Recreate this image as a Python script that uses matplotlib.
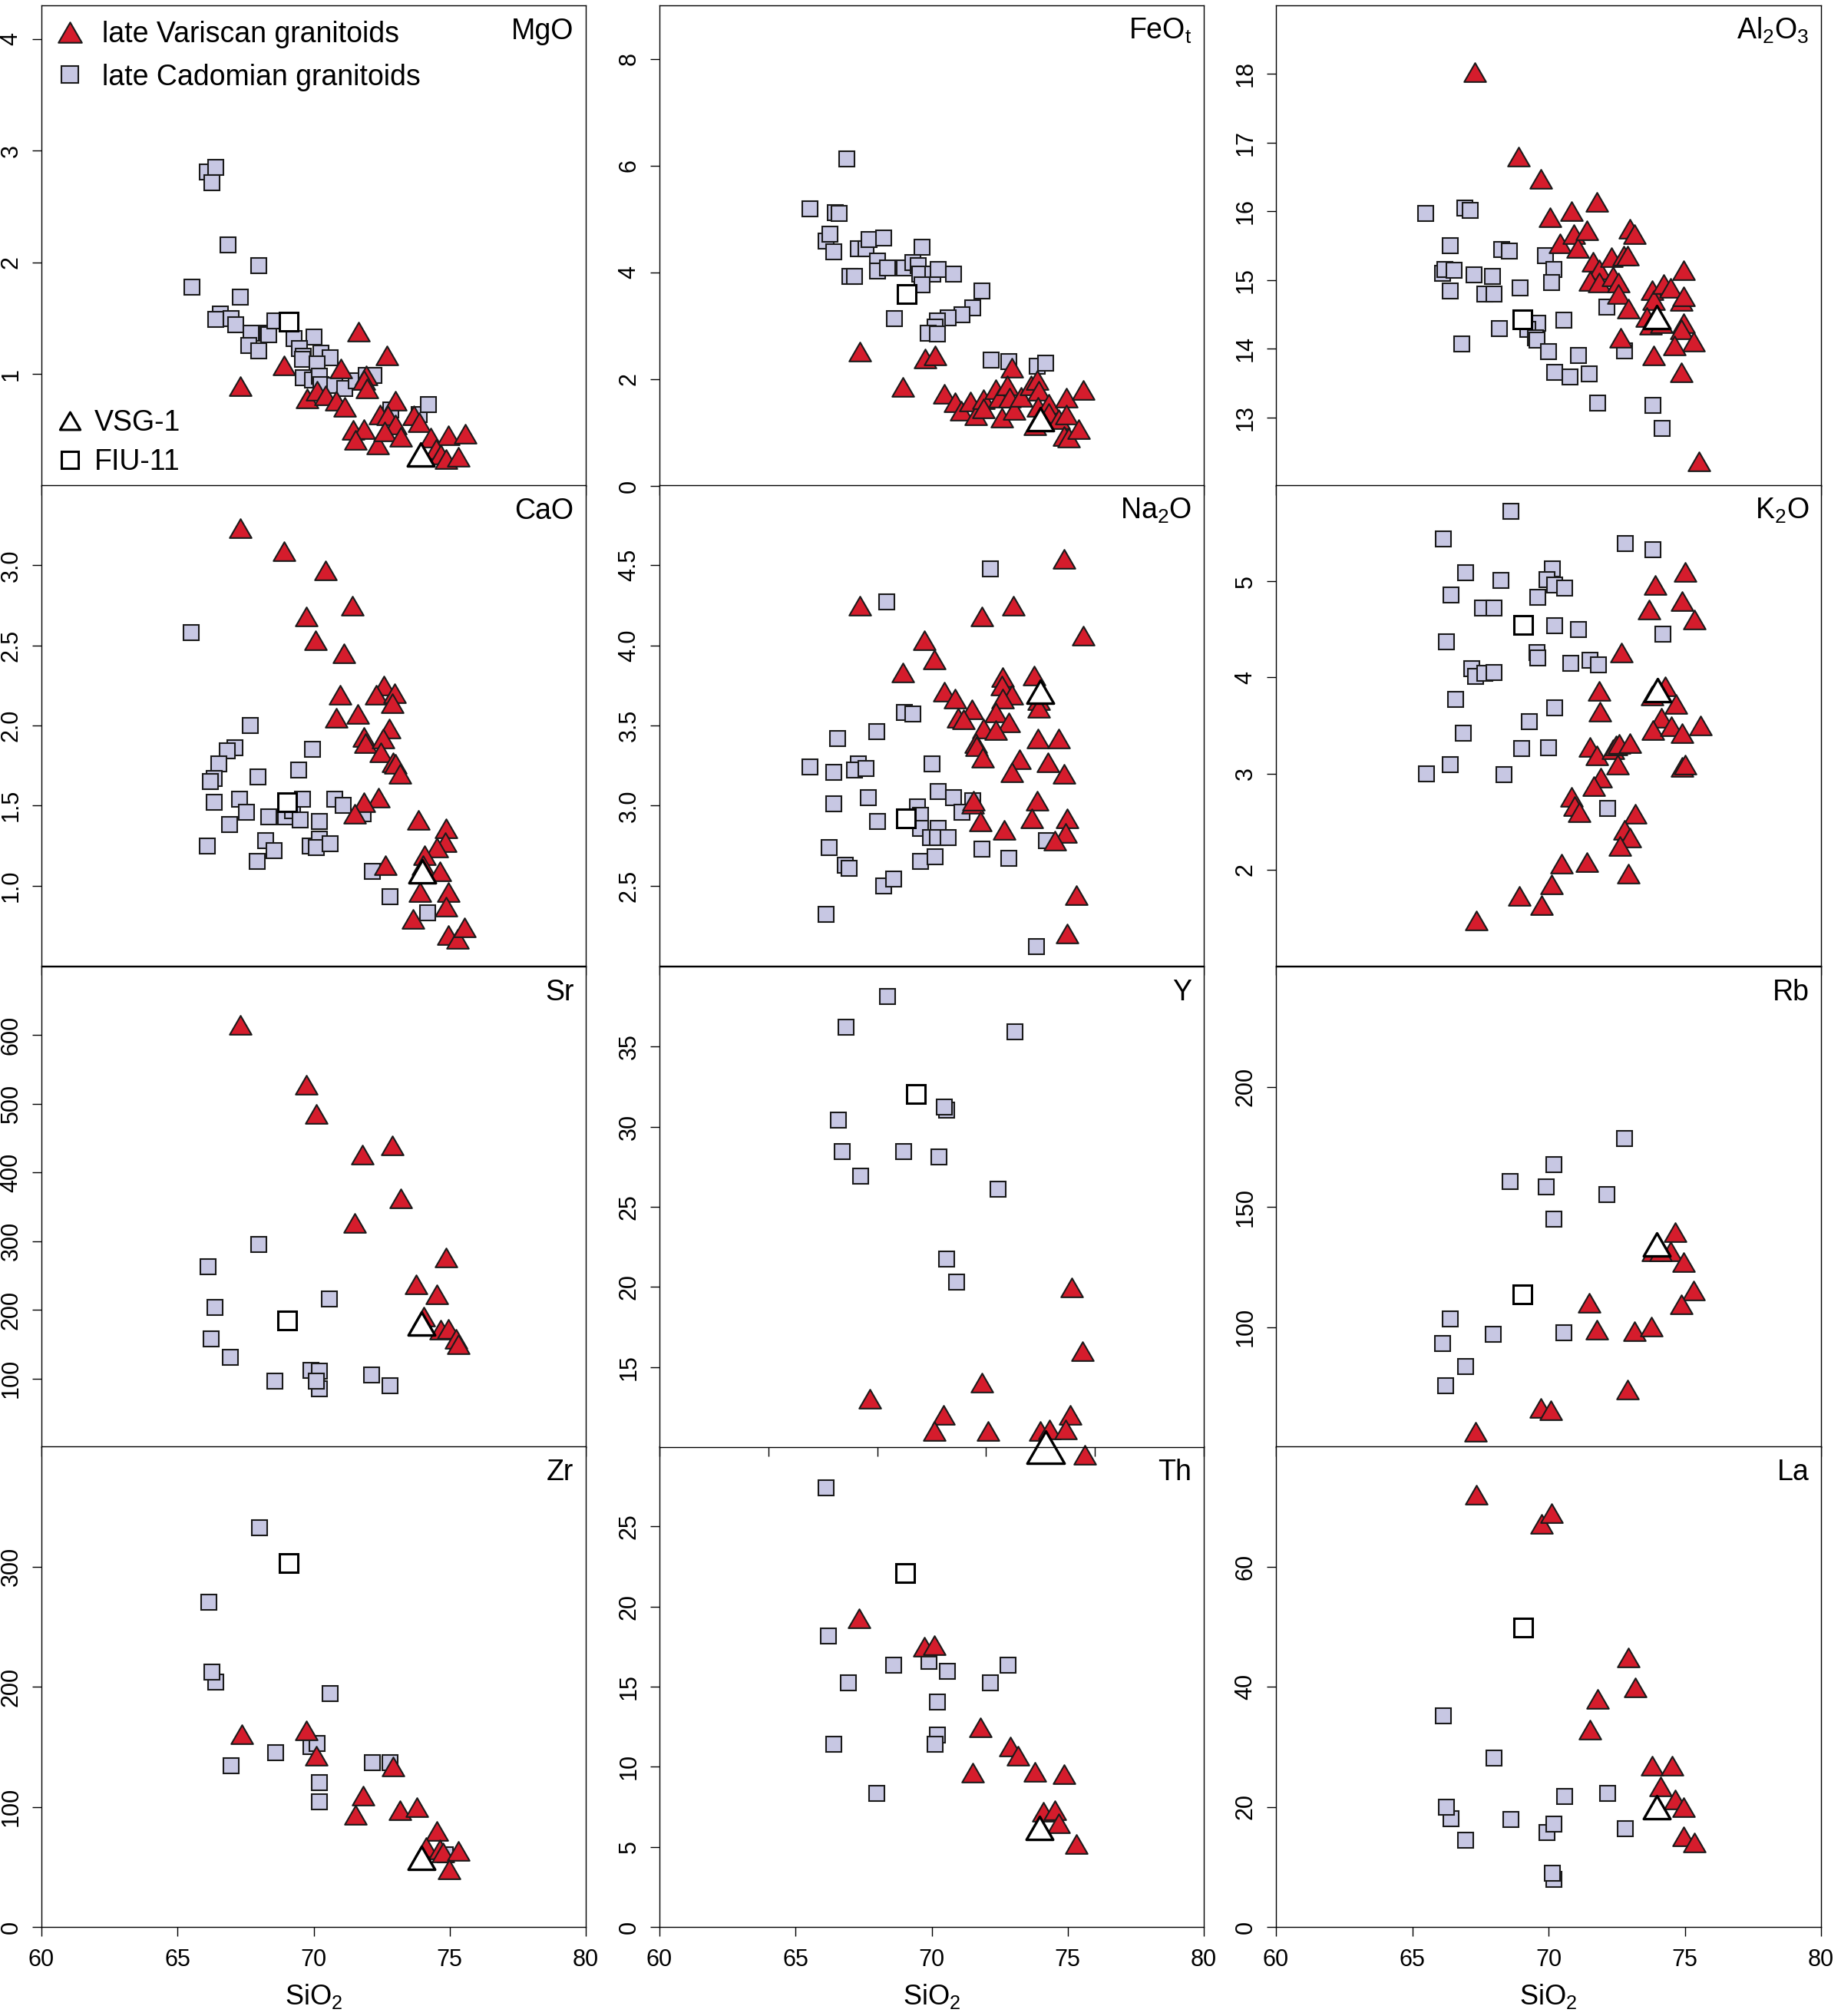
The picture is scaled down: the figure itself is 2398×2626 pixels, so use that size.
import matplotlib
matplotlib.use('Agg')
import matplotlib.pyplot as plt
from matplotlib.path import Path
from matplotlib.lines import Line2D

plt.rcParams['font.family'] = ['Liberation Sans', 'DejaVu Sans']
plt.rcParams['mathtext.fontset'] = 'custom'
plt.rcParams['mathtext.rm'] = 'Liberation Sans'
plt.rcParams['mathtext.it'] = 'Liberation Sans:italic'
plt.rcParams['mathtext.bf'] = 'Liberation Sans:bold'

# ---- data (SiO2 vs element), var = late Variscan, cad = late Cadomian
mgo_var_x = [67.32,68.91,71.64,72.68,70.99,71.93,71.86,71.96,69.75,70.12,70.45,70.84,71.14,73.01,72.43,72.71,
             73.01,73.67,73.88,71.46,71.86,71.54,72.36,72.62,73.20,74.29,74.94,75.58,74.51,74.68,74.87,75.33]
mgo_var_y = [0.89,1.08,1.38,1.17,1.05,0.99,0.95,0.87,0.78,0.85,0.81,0.76,0.71,0.76,0.64,0.63,
             0.55,0.63,0.57,0.50,0.51,0.41,0.37,0.49,0.44,0.43,0.45,0.47,0.33,0.28,0.24,0.26]
mgo_cad_x = [66.09,66.39,66.25,66.86,67.97,65.52,67.32,66.57,66.39,66.96,67.14,67.70,68.28,68.35,68.57,67.61,
             67.97,69.29,70.0,69.49,69.61,69.58,70.26,70.62,70.12,69.61,69.97,70.22,70.26,70.77,71.14,71.57,
             71.93,72.22,72.83,73.88,74.22]
mgo_cad_y = [2.81,2.85,2.71,2.16,1.97,1.78,1.69,1.54,1.49,1.50,1.44,1.37,1.37,1.35,1.48,1.26,
             1.21,1.32,1.33,1.23,1.16,1.13,1.19,1.15,1.09,0.97,0.95,0.98,0.91,0.90,0.87,0.94,
             0.99,0.99,0.68,0.64,0.73]

feo_var_x = [67.35,69.77,70.13,68.94,72.96,70.46,70.86,71.09,71.43,71.62,71.91,71.91,72.35,72.49,72.57,72.78,
             72.86,73.04,73.29,73.65,73.87,73.94,73.91,73.80,74.30,74.30,74.67,74.96,74.96,74.86,75.03,75.39,75.57]
feo_var_y = [2.51,2.39,2.45,1.85,2.22,1.72,1.57,1.41,1.58,1.32,1.63,1.45,1.81,1.66,1.28,1.89,
             1.66,1.42,1.67,1.89,1.98,1.78,1.48,1.13,1.54,1.37,1.25,1.66,1.34,0.93,0.90,1.06,1.79]
feo_cad_x = [66.87,65.54,66.45,66.59,66.12,66.26,66.41,67.30,67.59,67.71,68.25,68.0,68.0,68.39,66.99,67.16,
             69.64,68.99,69.30,69.52,69.57,70.03,70.25,70.80,69.64,71.84,71.51,71.12,70.61,70.20,70.14,69.88,
             70.22,68.62,72.20,72.83,73.87,74.19]
feo_cad_y = [6.13,5.19,5.12,5.11,4.59,4.72,4.38,4.44,4.44,4.62,4.65,4.21,4.03,4.08,3.93,3.93,
             4.47,4.09,4.18,4.12,3.97,3.97,4.06,3.97,3.76,3.65,3.33,3.21,3.15,3.09,2.98,2.86,
             2.84,3.14,2.36,2.33,2.25,2.30]

al_var_x = [67.30,68.89,69.73,70.07,70.84,71.78,70.43,70.92,71.08,71.42,71.63,71.85,71.53,71.85,72.31,72.36,
            72.57,72.57,72.76,72.89,72.98,73.15,72.93,72.64,73.80,73.87,74.23,74.49,73.61,73.76,74.13,74.88,
            74.96,74.96,74.88,74.96,75.32,74.62,73.87,74.86,75.53]
al_var_y = [18.03,16.80,16.47,15.91,16.0,16.14,15.53,15.67,15.47,15.72,15.26,15.15,14.99,14.96,15.33,15.05,
            14.96,14.80,15.35,15.35,15.75,15.67,14.58,14.16,14.85,14.71,14.94,14.89,14.46,14.35,14.37,14.69,
            14.76,14.37,14.28,15.14,14.10,14.05,13.90,13.65,12.36]
al_cad_x = [65.49,66.94,67.12,66.39,66.10,66.21,66.53,66.39,67.27,67.95,68.28,68.57,67.66,67.99,68.96,66.82,
            68.19,69.90,70.19,70.12,69.61,69.25,69.51,69.57,70.55,70.0,71.10,70.23,70.78,71.50,71.81,72.14,
            72.79,73.82,74.18]
al_cad_y = [15.97,16.05,16.01,15.50,15.10,15.15,15.14,14.84,15.08,15.05,15.44,15.42,14.80,14.80,14.89,14.07,
            14.29,15.36,15.15,14.96,14.37,14.28,14.16,14.12,14.42,13.96,13.90,13.65,13.59,13.63,13.21,14.61,
            13.97,13.17,12.84]

cao_var_x = [67.31,68.91,70.45,71.42,69.74,70.07,71.12,70.96,72.57,72.31,72.97,72.89,71.61,70.84,72.78,71.85,
             71.90,72.56,72.46,72.92,73.0,73.18,72.38,71.85,71.50,73.84,74.88,74.85,74.52,74.08,72.63,74.01,
             74.64,73.91,74.96,74.88,73.65,74.96,75.29,75.54]
cao_var_y = [3.23,3.09,2.97,2.75,2.68,2.53,2.45,2.19,2.25,2.19,2.20,2.14,2.07,2.05,1.98,1.93,
             1.89,1.92,1.83,1.77,1.76,1.70,1.55,1.52,1.45,1.41,1.36,1.27,1.24,1.19,1.13,1.13,
             1.09,0.96,0.96,0.87,0.79,0.69,0.67,0.74]
cao_cad_x = [65.49,67.66,67.11,66.82,66.53,66.35,66.21,67.95,69.97,69.46,66.35,67.28,67.54,66.92,66.09,68.34,
             68.97,69.22,69.58,69.51,70.20,68.23,68.56,67.94,69.87,70.20,70.09,70.60,70.78,71.10,71.83,72.15,
             72.81,74.19]
cao_cad_y = [2.58,2.0,1.86,1.84,1.76,1.67,1.65,1.68,1.85,1.72,1.52,1.54,1.46,1.38,1.25,1.43,
             1.43,1.47,1.54,1.41,1.40,1.28,1.22,1.15,1.25,1.29,1.24,1.26,1.54,1.50,1.45,1.09,
             0.93,0.83]

na_var_x = [74.88,67.35,73.0,71.84,75.58,69.74,70.10,68.94,73.77,72.61,72.57,72.96,72.61,70.46,70.87,73.94,
            73.94,71.48,72.35,70.97,71.16,72.83,71.91,72.35,73.91,74.67,71.62,71.65,71.87,73.22,74.28,72.96,
            74.88,71.52,71.55,73.87,71.80,73.68,74.99,72.67,74.93,74.52,75.32,74.99]
na_var_y = [4.54,4.25,4.25,4.18,4.06,4.03,3.91,3.83,3.81,3.80,3.75,3.69,3.67,3.71,3.67,3.66,
            3.61,3.60,3.58,3.55,3.54,3.52,3.48,3.47,3.42,3.42,3.39,3.37,3.30,3.29,3.27,3.21,
            3.20,3.01,3.03,3.03,2.90,2.92,2.92,2.85,2.83,2.78,2.44,2.20]
na_cad_x = [72.17,68.36,69.01,69.30,67.97,66.55,65.54,66.41,67.30,67.16,67.59,70.0,66.41,67.68,70.25,70.80,
            71.51,68.0,69.49,69.59,69.59,71.12,70.25,69.96,70.22,70.61,74.23,66.23,66.84,66.96,69.59,70.13,
            71.84,72.83,68.25,68.61,66.12,73.84]
na_cad_y = [4.48,4.27,3.58,3.57,3.46,3.42,3.24,3.21,3.26,3.22,3.23,3.26,3.01,3.05,3.09,3.05,
            3.03,2.90,2.99,2.94,2.86,2.96,2.86,2.80,2.80,2.80,2.78,2.74,2.63,2.61,2.65,2.68,
            2.73,2.67,2.50,2.54,2.32,2.12]

k_var_x = [75.0,73.92,74.91,73.68,75.36,72.69,74.28,73.80,71.85,71.88,74.67,74.13,73.84,74.52,74.91,75.58,
           71.53,71.78,72.36,72.47,72.60,72.98,72.53,74.91,75.0,71.92,71.65,70.84,70.95,71.14,73.19,72.79,
           72.98,72.62,72.93,70.48,71.42,70.12,68.93,69.75,67.34]
k_var_y = [5.10,4.96,4.79,4.71,4.60,4.26,3.91,3.81,3.86,3.64,3.72,3.58,3.45,3.49,3.42,3.50,
           3.28,3.19,3.25,3.29,3.31,3.32,3.09,3.07,3.09,2.96,2.87,2.76,2.66,2.60,2.58,2.41,
           2.33,2.25,1.96,2.06,2.08,1.85,1.73,1.63,1.47]
k_cad_x = [68.63,66.14,72.83,73.84,66.95,70.14,69.94,70.23,70.58,68.24,66.42,69.61,67.59,67.99,70.22,71.10,
           74.21,66.26,69.58,69.61,70.81,71.53,71.82,67.18,67.33,67.66,67.99,66.58,70.23,69.29,66.86,69.0,
           70.0,66.40,65.53,68.38,72.17]
k_cad_y = [5.73,5.44,5.39,5.33,5.09,5.13,5.02,4.96,4.93,5.01,4.86,4.83,4.72,4.72,4.54,4.50,
           4.45,4.37,4.26,4.20,4.15,4.18,4.13,4.09,4.01,4.04,4.05,3.77,3.68,3.54,3.42,3.26,
           3.27,3.09,3.0,2.99,2.64]

sr_var_x = [67.32,69.72,70.09,71.80,72.90,73.19,71.51,74.88,73.77,74.52,74.06,74.67,74.96,75.22,75.32]
sr_var_y = [615,528,485,426,440,362,327,276,237,223,190,171,172,158,150]
sr_cad_x = [67.97,66.12,66.38,70.58,66.23,66.94,68.58,69.91,70.20,70.20,70.10,72.14,72.81]
sr_cad_y = [295,263,204,216,158,131,96,112,111,85,96,105,90]

y_var_x = [75.15,75.53,71.84,67.74,70.45,75.09,70.09,72.06,73.99,74.33,74.93,75.63]
y_var_y = [19.99,15.98,14.02,13.04,12.03,12.03,10.99,10.99,10.99,11.09,11.09,9.52]
y_cad_x = [68.39,66.85,73.07,70.56,70.46,66.56,66.70,68.97,70.27,67.38,72.45,70.56,70.93]
y_cad_y = [38.15,36.23,35.94,31.05,31.24,30.42,28.44,28.44,28.11,26.94,26.12,21.75,20.32]

rb_var_x = [74.64,74.49,73.82,74.10,74.97,75.32,74.88,71.50,71.78,73.16,73.77,72.90,69.73,70.09,67.31]
rb_var_y = [139.5,131.6,131.6,131.6,127.1,115.3,109.4,110.1,99.0,98.3,100.3,74.1,66.3,65.4,56.5]
rb_cad_x = [72.80,70.20,68.58,69.91,72.14,70.20,66.40,66.11,67.96,70.56,66.95,66.23]
rb_cad_y = [178.4,167.6,160.4,158.4,155.2,145.0,103.3,93.1,97.0,97.6,83.7,75.7]

zr_var_x = [67.35,69.73,70.09,72.91,71.81,71.54,73.16,73.78,74.53,74.14,74.65,74.75,75.33,74.97]
zr_var_y = [160.6,163.6,142.8,133.6,109.2,93.3,96.9,99.4,80.1,66.4,64.8,61.8,63.3,48.0]
zr_cad_x = [68.0,66.15,66.41,66.26,70.60,69.91,70.12,68.60,66.97,72.15,72.80,70.20,70.20,74.85]
zr_cad_y = [332,270,204,212,194,150,153,145,134,137,137,120,104,60]

th_var_x = [67.34,69.74,70.09,71.79,72.88,73.17,71.50,73.79,74.88,74.11,74.52,74.66,75.31]
th_var_y = [19.27,17.5,17.57,12.45,11.26,10.69,9.63,9.66,9.52,7.18,7.29,6.49,5.18]
th_cad_x = [66.12,66.22,68.61,69.91,70.59,72.81,66.95,72.16,70.20,70.20,70.13,66.40,67.99]
th_cad_y = [27.43,18.14,16.35,16.58,15.94,16.35,15.25,15.25,14.06,12.0,11.42,11.42,8.33]

la_var_x = [67.34,69.75,70.11,72.92,73.18,71.80,71.52,73.79,74.54,74.11,74.66,74.95,74.97,75.34]
la_var_y = [71.9,67.1,68.9,44.9,39.9,38.0,32.9,26.9,26.9,23.4,21.2,20.0,15.1,14.1]
la_cad_x = [66.14,67.99,66.43,66.25,66.97,68.62,69.93,70.21,70.58,72.16,72.82,70.21,70.14]
la_cad_y = [35.1,28.1,18.0,20.0,14.4,17.9,15.7,17.1,21.7,22.2,16.3,7.9,8.9]

# reference samples, one value per panel (MgO ... La)
vsg1_x = [73.93,73.99,73.97,73.98,73.99,73.99,73.97,74.18,73.96,73.96,73.97,73.98]
vsg1_y = [0.28,1.25,14.46,1.09,3.71,3.87,180,10.0,134.2,57.8,6.19,20.0]
fiu11_x = [69.07,69.09,69.03,69.04,69.06,69.06,69.04,69.41,69.05,69.07,69.04,69.07]
fiu11_y = [1.47,3.59,14.43,1.52,2.92,4.55,185,32.06,113.6,303,22.09,49.9]

names = ['MgO', r'FeO$_\mathrm{t}$', r'Al$_\mathrm{2}$O$_\mathrm{3}$', 'CaO', r'Na$_\mathrm{2}$O',
         r'K$_\mathrm{2}$O', 'Sr', 'Y', 'Rb', 'Zr', 'Th', 'La']
var_x = [mgo_var_x, feo_var_x, al_var_x, cao_var_x, na_var_x, k_var_x, sr_var_x, y_var_x, rb_var_x, zr_var_x, th_var_x, la_var_x]
var_y = [mgo_var_y, feo_var_y, al_var_y, cao_var_y, na_var_y, k_var_y, sr_var_y, y_var_y, rb_var_y, zr_var_y, th_var_y, la_var_y]
cad_x = [mgo_cad_x, feo_cad_x, al_cad_x, cao_cad_x, na_cad_x, k_cad_x, sr_cad_x, y_cad_x, rb_cad_x, zr_cad_x, th_cad_x, la_cad_x]
cad_y = [mgo_cad_y, feo_cad_y, al_cad_y, cao_cad_y, na_cad_y, k_cad_y, sr_cad_y, y_cad_y, rb_cad_y, zr_cad_y, th_cad_y, la_cad_y]

ylims = [(0, 4.3), (0, 9), (12, 19), (0.5, 3.5), (2, 5), (1, 6), (0, 700), (10, 40), (50, 250), (0, 400), (0, 30), (0, 80)]
yticks = [[1, 2, 3, 4], [0, 2, 4, 6, 8], [13, 14, 15, 16, 17, 18], [1.0, 1.5, 2.0, 2.5, 3.0],
          [2.5, 3.0, 3.5, 4.0, 4.5], [2, 3, 4, 5], [100, 200, 300, 400, 500, 600], [15, 20, 25, 30, 35],
          [100, 150, 200], [0, 100, 200, 300], [0, 5, 10, 15, 20, 25], [0, 20, 40, 60]]
xticks = [60, 65, 70, 75, 80]
xticks_y = [60, 64, 68, 72, 76, 80]

red = '#d51c2c'
lav = '#c7c7e3'
edge = '#1a1a1a'

# R-like triangle (equilateral), centred on its bounding box
tri = Path([(0, 0.5), (0.5774, -0.5), (-0.5774, -0.5), (0, 0.5)],
           [Path.MOVETO, Path.LINETO, Path.LINETO, Path.CLOSEPOLY])

W, H = 2398, 2626
col_left = [54, 859, 1662]
col_w = [709, 709, 710]
row_top = [7, 632, 1259, 1884]
row_h = 626

fig = plt.figure(figsize=(W / 100, H / 100), dpi=100)

for i in range(12):
    r, c = divmod(i, 3)
    ax = fig.add_axes([col_left[c] / W, 1 - (row_top[r] + row_h) / H, col_w[c] / W, row_h / H])
    noclip = (names[i] == 'Y')
    if noclip:
        ax.set_zorder(5)
    ax.plot(cad_x[i], cad_y[i], ls='none', marker='s', ms=14, mfc=lav, mec=edge, mew=1.5, clip_on=not noclip)
    ax.plot(var_x[i], var_y[i], ls='none', marker=tri, ms=20.5, mfc=red, mec=edge, mew=1.5, clip_on=not noclip)
    ax.plot(fiu11_x[i], fiu11_y[i], ls='none', marker='s', ms=17.5, mfc='white', mec='black', mew=2.2,
            clip_on=not noclip)
    ax.plot(vsg1_x[i], vsg1_y[i], ls='none', marker=tri, ms=35 if noclip else 25, mfc='white', mec='black',
            mew=2.4, clip_on=not noclip)

    ax.set_xlim(60, 80)
    ax.set_ylim(*ylims[i])
    ax.set_xticks(xticks_y if noclip else xticks)
    ax.set_yticks(yticks[i])
    if names[i] in ('CaO', r'Na$_\mathrm{2}$O'):
        ax.set_yticklabels(['%.1f' % v for v in yticks[i]], rotation=90, va='center')
    else:
        ax.set_yticklabels(['%g' % v for v in yticks[i]], rotation=90, va='center')
    ax.tick_params(axis='both', direction='out', length=8.5, width=1.0, labelsize=22)
    ax.tick_params(axis='x', pad=12)
    ax.tick_params(axis='y', pad=9)
    for s in ax.spines.values():
        s.set_linewidth(1.0)
    if r < 3:
        ax.tick_params(axis='x', labelbottom=False)
    else:
        ax.text(0.5, -0.162, r'SiO$_\mathrm{2}$', transform=ax.transAxes, ha='center', va='baseline', fontsize=26)

    ax.text(0.978, 0.93, names[i], transform=ax.transAxes, ha='right', va='baseline', fontsize=27)

    if i == 0:
        h1 = [Line2D([], [], ls='none', marker=tri, ms=22, mfc=red, mec=edge, mew=1.5),
              Line2D([], [], ls='none', marker='s', ms=16.5, mfc=lav, mec=edge, mew=1.5)]
        leg1 = ax.legend(h1, ['late Variscan granitoids', 'late Cadomian granitoids'], loc='upper left',
                         bbox_to_anchor=(0.0254, 0.968), borderaxespad=0, borderpad=0, frameon=False,
                         fontsize=27, handlelength=1.0, handletextpad=0.62, labelspacing=0.52)
        ax.add_artist(leg1)
        h2 = [Line2D([], [], ls='none', marker=tri, ms=19, mfc='white', mec='black', mew=2.2),
              Line2D([], [], ls='none', marker='s', ms=16.5, mfc='white', mec='black', mew=2.2)]
        ax.legend(h2, ['VSG-1', 'FIU-11'], loc='lower left', bbox_to_anchor=(0.0254, 0.021),
                  borderaxespad=0, borderpad=0, frameon=False, fontsize=27, handlelength=1.0,
                  handletextpad=0.36, labelspacing=0.4)

fig.savefig('out.png', dpi=100)
